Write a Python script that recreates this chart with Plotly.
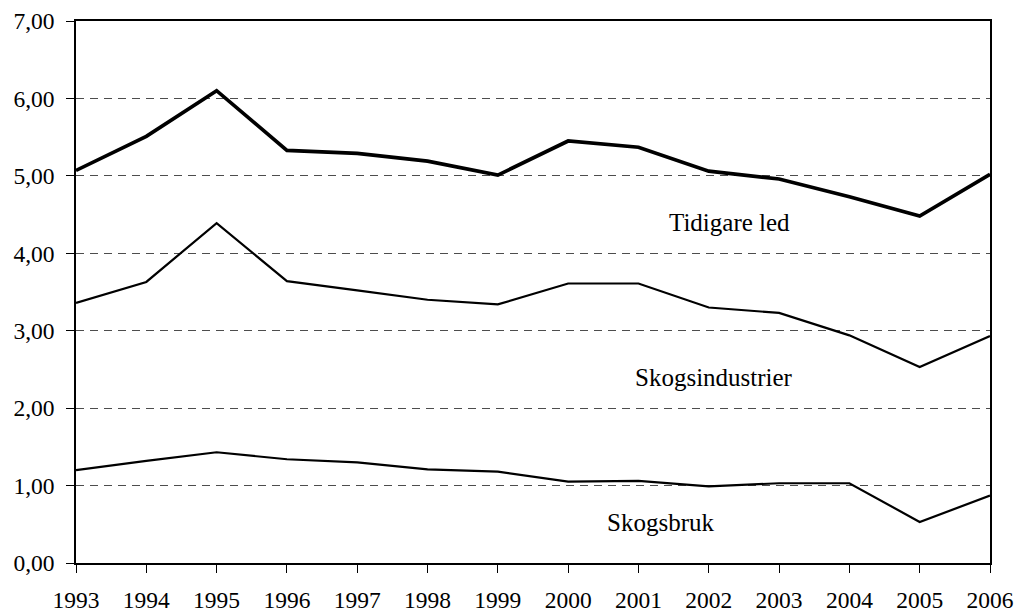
import plotly.graph_objects as go

years = list(range(1993, 2007))
tidigare_led = [5.07, 5.51, 6.10, 5.33, 5.29, 5.19, 5.01, 5.45, 5.37, 5.06, 4.96, 4.73, 4.48, 5.02]
skogsindustrier = [3.36, 3.63, 4.39, 3.64, 3.52, 3.40, 3.34, 3.61, 3.61, 3.30, 3.23, 2.94, 2.53, 2.93]
skogsbruk = [1.20, 1.32, 1.43, 1.34, 1.30, 1.21, 1.18, 1.05, 1.06, 0.99, 1.03, 1.03, 0.53, 0.87]
y_ticks = [0, 1, 2, 3, 4, 5, 6, 7]

labels = ["Tidigare led", "Skogsindustrier", "Skogsbruk"]
label_x = [2002.30, 2002.08, 2001.31]
label_y = [4.40, 2.39, 0.52]

FONT = "Times New Roman"

fig = go.Figure()
fig.add_trace(go.Scatter(x=years, y=tidigare_led, mode="lines", line=dict(color="black", width=3.7), name=labels[0]))
fig.add_trace(go.Scatter(x=years, y=skogsindustrier, mode="lines", line=dict(color="black", width=2.2), name=labels[1]))
fig.add_trace(go.Scatter(x=years, y=skogsbruk, mode="lines", line=dict(color="black", width=2.2), name=labels[2]))

for t, lx, ly in zip(labels, label_x, label_y):
    fig.add_annotation(x=lx, y=ly, text=t, showarrow=False, font=dict(family=FONT, size=25, color="black"))

fig.update_layout(
    width=1019, height=612,
    margin=dict(l=76, r=29, t=21, b=49, autoexpand=False),
    paper_bgcolor="white", plot_bgcolor="white",
    showlegend=False,
    separators=", ",
    font=dict(family=FONT, size=23.5, color="black"),
)
fig.update_xaxes(
    range=[1993, 2006], tickmode="array", tickvals=years, ticktext=[str(y) for y in years],
    showgrid=False, zeroline=False, automargin=False,
    showline=True, linecolor="black", linewidth=1.5, mirror=True,
    ticks="outside", ticklen=8, tickcolor="black", tickwidth=1.2,
    ticklabelstandoff=7,
    tickfont=dict(family=FONT, size=23.5, color="black"),
)
fig.update_yaxes(
    range=[0, 7], tickmode="array", tickvals=y_ticks, tickformat=".2f",
    showgrid=True, gridcolor="#4d4d4d", gridwidth=1, griddash="8px,6px",
    zeroline=False, automargin=False,
    showline=True, linecolor="black", linewidth=1.5, mirror=True,
    ticks="outside", ticklen=8, tickcolor="black", tickwidth=1.2,
    ticklabelstandoff=7,
    tickfont=dict(family=FONT, size=23.5, color="black"),
)

fig.write_html("out.html", config={"displayModeBar": False},
               post_script="document.body.style.margin='0';document.body.style.overflow='hidden';")
